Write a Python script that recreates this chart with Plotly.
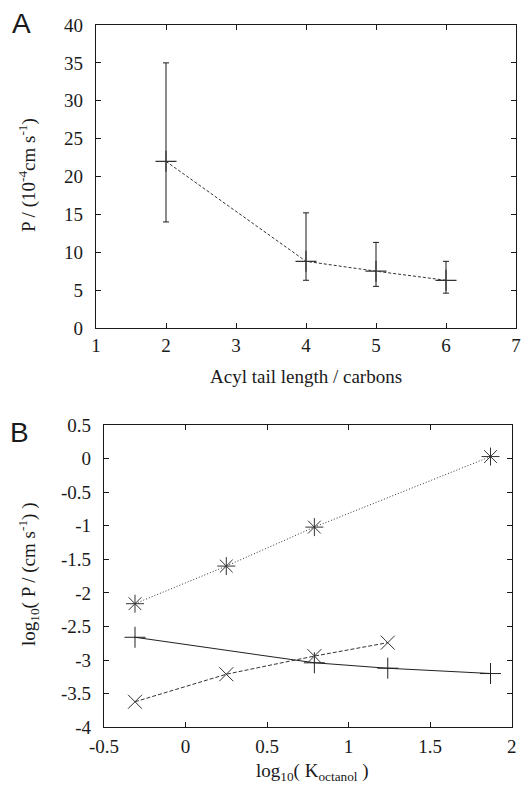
import plotly.graph_objects as go

# Panel A data
tail_length = [2, 4, 5, 6]
perm_A = [22.0, 8.8, 7.5, 6.3]
perm_A_upper = [35.0, 15.2, 11.3, 8.8]
perm_A_lower = [14.0, 6.3, 5.5, 4.6]

# Panel B data
logK_star = [-0.31, 0.25, 0.79, 1.87]
logP_star = [-2.16, -1.60, -1.02, 0.03]
logK_plus = [-0.31, 0.79, 1.24, 1.87]
logP_plus = [-2.66, -3.04, -3.12, -3.20]
logK_x = [-0.31, 0.25, 0.79, 1.24]
logP_x = [-3.62, -3.21, -2.94, -2.74]

A_xticks = [1, 2, 3, 4, 5, 6, 7]
A_yticks = [0, 5, 10, 15, 20, 25, 30, 35, 40]
B_xticks = [-0.5, 0, 0.5, 1, 1.5, 2]
B_yticks = [0.5, 0, -0.5, -1, -1.5, -2, -2.5, -3, -3.5, -4]
B_yticklabels = ["0.5", "0", "-0.5", "-1", "-1.5", "-2", "-2.5", "-3", "-3.5", "-4"]
B_xticklabels = ["-0.5", "0", "0.5", "1", "1.5", "2"]

# page body has an 8px default margin: size the figure to fill the rest
OFF = 8
W, H = 532 - OFF, 785 - OFF


def px(x):
    return (x - OFF) / W


def py(y):
    return 1 - (y - OFF) / H


FONT = "Liberation Serif, Times New Roman, serif"
ink = "#1a1a1a"

fig = go.Figure()

fig.add_trace(go.Scatter(
    x=tail_length, y=perm_A, mode="lines+markers",
    line=dict(color="#333333", width=1, dash="3px,2px"),
    marker=dict(symbol="cross-thin-open", size=15, line=dict(color=ink, width=1.2)),
    error_y=dict(type="data", symmetric=False,
                 array=[u - v for u, v in zip(perm_A_upper, perm_A)],
                 arrayminus=[v - l for v, l in zip(perm_A, perm_A_lower)],
                 color=ink, thickness=1, width=3),
    xaxis="x", yaxis="y", showlegend=False))

fig.add_trace(go.Scatter(
    x=logK_star, y=logP_star, mode="lines+markers",
    line=dict(color="#333333", width=1, dash="1px,2px"),
    marker=dict(symbol="asterisk-open", size=15, line=dict(color=ink, width=1)),
    xaxis="x2", yaxis="y2", showlegend=False))

fig.add_trace(go.Scatter(
    x=logK_plus, y=logP_plus, mode="lines+markers",
    line=dict(color="#222222", width=1.1),
    marker=dict(symbol="cross-thin-open", size=15, line=dict(color=ink, width=1)),
    xaxis="x2", yaxis="y2", showlegend=False))

fig.add_trace(go.Scatter(
    x=logK_x, y=logP_x, mode="lines+markers",
    line=dict(color="#333333", width=1, dash="4px,2px"),
    marker=dict(symbol="x-thin-open", size=14, line=dict(color=ink, width=1)),
    xaxis="x2", yaxis="y2", showlegend=False))

axis_common = dict(
    showline=True, linecolor=ink, linewidth=1.3, mirror="ticks",
    ticks="inside", ticklen=5, tickcolor=ink, tickwidth=1,
    showgrid=False, zeroline=False, automargin=False,
    tickfont=dict(family=FONT, size=19, color=ink),
)

title_font = dict(family=FONT, size=19, color=ink)

fig.update_layout(
    width=W, height=H,
    margin=dict(l=0, r=0, t=0, b=0, pad=0),
    paper_bgcolor="white", plot_bgcolor="white",
    font=dict(family=FONT, color=ink),
    xaxis=dict(domain=[px(96), px(516)], range=[1, 7], tickvals=A_xticks,
               anchor="y", ticklabelstandoff=0, **axis_common),
    yaxis=dict(domain=[py(328), py(25)], range=[0, 40], tickvals=A_yticks,
               anchor="x", ticklabelstandoff=8, **axis_common),
    xaxis2=dict(domain=[px(104), px(511.7)], range=[-0.5, 2], tickvals=B_xticks,
                ticktext=B_xticklabels, anchor="y2", ticklabelstandoff=2,
                **axis_common),
    yaxis2=dict(domain=[py(727.3), py(425)], range=[-4, 0.5], tickvals=B_yticks,
                ticktext=B_yticklabels, anchor="x2", ticklabelstandoff=8,
                **axis_common),
    annotations=[
        dict(text="A", x=px(10), y=py(6), xref="paper", yref="paper",
             xanchor="left", yanchor="top", showarrow=False,
             font=dict(family="Liberation Sans", size=28, color=ink)),
        dict(text="B", x=px(8), y=py(415), xref="paper", yref="paper",
             xanchor="left", yanchor="top", showarrow=False,
             font=dict(family="Liberation Sans", size=28, color=ink)),
        dict(text="Acyl tail length / carbons", x=px(306), y=py(376),
             xref="paper", yref="paper", xanchor="center", yanchor="middle",
             showarrow=False, font=title_font),
        dict(text="P / (10<sup>-4</sup>cm s<sup>-1</sup>)", x=px(28), y=py(175),
             xref="paper", yref="paper", xanchor="center", yanchor="middle",
             textangle=-90, showarrow=False, font=title_font),
        dict(text="log<sub>10</sub>( P / (cm s<sup>-1</sup>) )", x=px(28), y=py(575),
             xref="paper", yref="paper", xanchor="center", yanchor="middle",
             textangle=-90, showarrow=False, font=title_font),
        dict(text="log<sub>10</sub>( K<sub>octanol</sub> )", x=px(312), y=py(772),
             xref="paper", yref="paper", xanchor="center", yanchor="middle",
             showarrow=False, font=title_font),
    ],
)

fig.write_html("out.html")
